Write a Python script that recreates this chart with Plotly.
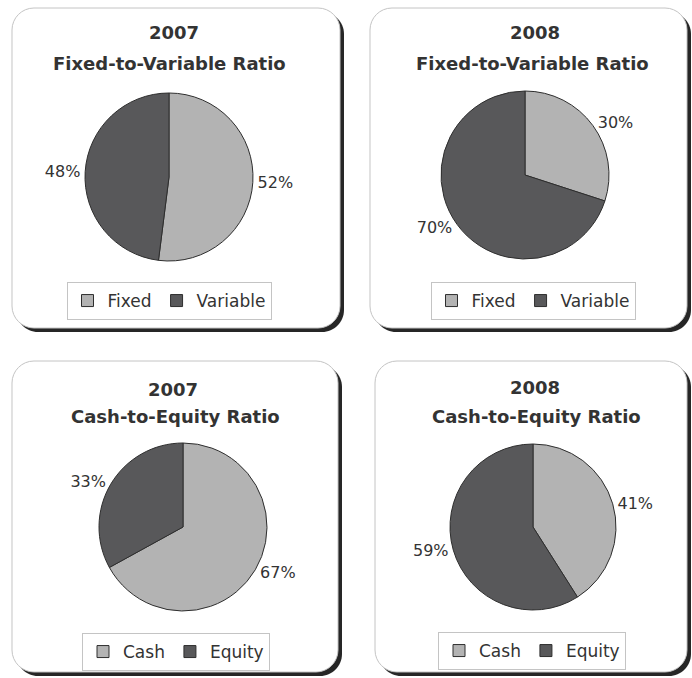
import plotly.graph_objects as go

W, H = 692, 678

# ---- data ----
fv_labels = ["Fixed", "Variable"]
fv_2007 = [52, 48]
fv_2008 = [30, 70]
ce_labels = ["Cash", "Equity"]
ce_2007 = [67, 33]
ce_2008 = [41, 59]
years = ["2007", "2008"]
fv_title = "Fixed-to-Variable Ratio"
ce_title = "Cash-to-Equity Ratio"

LIGHT = "#b3b3b3"
DARK = "#58585a"
EDGE = "#2e2e2e"
TXT = "#333333"
FONT = "DejaVu Sans"

# ---- layout geometry (pixels) ----
panels = [
    dict(box=(12, 8, 340, 328), pie=(169, 177, 84), legend=(169, 282), l1=(174, 33), l2=(169, 63),
         labels=fv_labels, values=fv_2007, year=years[0], title=fv_title, lg="legend", wrap=False),
    dict(box=(370, 8, 687, 328), pie=(525, 175, 84), legend=(533, 282), l1=(535, 33), l2=(532, 63),
         labels=fv_labels, values=fv_2008, year=years[1], title=fv_title, lg="legend2", wrap=True),
    dict(box=(12, 361, 338, 672), pie=(183, 527, 84), legend=(176, 633), l1=(173, 389), l2=(175, 417),
         labels=ce_labels, values=ce_2007, year=years[0], title=ce_title, lg="legend3", wrap=False),
    dict(box=(375, 361, 687, 672), pie=(533, 527, 83), legend=(532, 632), l1=(535, 387), l2=(536, 416),
         labels=ce_labels, values=ce_2008, year=years[1], title=ce_title, lg="legend4", wrap=True),
]


def P(x, y):
    return f"{x / W:.5f},{1 - y / H:.5f}"


def rrect(x0, y0, x1, y1, r):
    k = 0.5523 * r
    return (
        f"M{P(x0 + r, y0)} L{P(x1 - r, y0)} "
        f"C{P(x1 - r + k, y0)} {P(x1, y0 + r - k)} {P(x1, y0 + r)} "
        f"L{P(x1, y1 - r)} "
        f"C{P(x1, y1 - r + k)} {P(x1 - r + k, y1)} {P(x1 - r, y1)} "
        f"L{P(x0 + r, y1)} "
        f"C{P(x0 + r - k, y1)} {P(x0, y1 - r + k)} {P(x0, y1 - r)} "
        f"L{P(x0, y0 + r)} "
        f"C{P(x0, y0 + r - k)} {P(x0 + r - k, y0)} {P(x0 + r, y0)} Z"
    )


fig = go.Figure()
shapes = []
annotations = []
legends = {}

for p in panels:
    x0, y0, x1, y1 = p["box"]
    shapes.append(dict(type="path", xref="paper", yref="paper", layer="below",
                       path=rrect(x0 + 4, y0 + 4, x1 + 4, y1 + 4, 22),
                       fillcolor="#262626", line=dict(width=0)))
    shapes.append(dict(type="path", xref="paper", yref="paper", layer="below",
                       path=rrect(x0, y0, x1, y1, 22),
                       fillcolor="white", line=dict(color="#c4c4c4", width=1)))

    cx, cy, r = p["pie"]
    # pies sharing a label would share one legend entry; wrap to keep entries separate
    labs = [f"<span>{lab}</span>" for lab in p["labels"]] if p["wrap"] else p["labels"]
    fig.add_trace(go.Pie(
        labels=labs, values=p["values"], sort=False, direction="clockwise",
        rotation=0,
        marker=dict(colors=[LIGHT, DARK], line=dict(color=EDGE, width=1)),
        texttemplate="%{value}%", textposition="outside",
        textfont=dict(family=FONT, size=16, color=TXT),
        domain=dict(x=[(cx - r) / W, (cx + r) / W], y=[1 - (cy + r) / H, 1 - (cy - r) / H]),
        hoverinfo="skip", legend=p["lg"], showlegend=True,
    ))

    lx, ly = p["legend"]
    legends[p["lg"]] = dict(
        orientation="h", x=lx / W, y=1 - ly / H, xanchor="center", yanchor="top",
        bordercolor="#c4c4c4", borderwidth=1, bgcolor="white", itemwidth=30,
        font=dict(family=FONT, size=17, color=TXT), traceorder="normal",
        itemclick=False, itemdoubleclick=False,
    )

    for (tx, ty), txt in ((p["l1"], p["year"]), (p["l2"], p["title"])):
        annotations.append(dict(
            x=tx / W, y=1 - ty / H, xref="paper", yref="paper", xanchor="center", yanchor="middle",
            text=f"<b>{txt}</b>", showarrow=False,
            font=dict(family=FONT, size=18, color=TXT),
        ))

fig.update_layout(
    width=W, height=H, margin=dict(l=0, r=0, t=0, b=0),
    paper_bgcolor="white", plot_bgcolor="white",
    shapes=shapes, annotations=annotations,
    **legends,
)

fig.write_html("out.html", config={"displayModeBar": False},
               post_script="document.body.style.margin='0';")
